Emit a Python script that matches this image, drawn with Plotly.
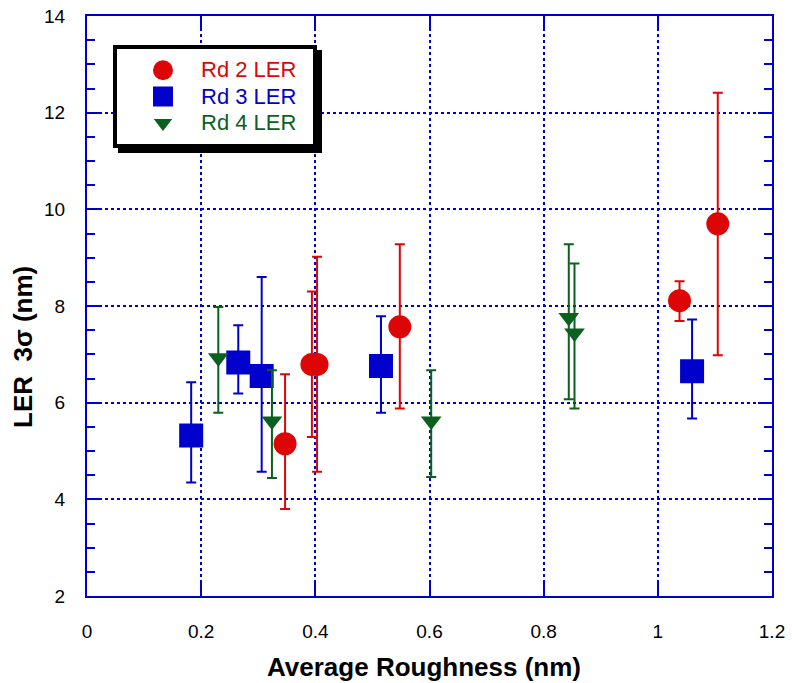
import plotly.graph_objects as go

# ---------------- data ----------------
rd2_x = [0.347, 0.394, 0.403, 0.548, 1.038, 1.105]
rd2_y = [5.15, 6.79, 6.79, 7.57, 8.11, 9.70]
rd2_hi = [6.59, 8.30, 9.02, 9.28, 8.51, 12.41]
rd2_lo = [3.80, 5.29, 4.57, 5.88, 7.69, 6.98]

rd3_x = [0.1825, 0.265, 0.306, 0.515, 1.060]
rd3_y = [5.32, 6.83, 6.55, 6.76, 6.65]
rd3_hi = [6.42, 7.60, 8.60, 7.79, 7.72]
rd3_lo = [4.35, 6.19, 4.57, 5.79, 5.67]

rd4_x = [0.230, 0.324, 0.603, 0.844, 0.854]
rd4_y = [6.93, 5.62, 5.62, 7.76, 7.44]
rd4_hi = [7.98, 6.67, 6.67, 9.28, 8.88]
rd4_lo = [5.79, 4.44, 4.46, 6.07, 5.88]

names = ["Rd 2 LER", "Rd 3 LER", "Rd 4 LER"]
colors = ["#dd0606", "#0000cc", "#0a611e"]
AXIS_BLUE = "#0000cc"
FONT = "Liberation Sans, Arial, sans-serif"

W, H = 792, 683
ML, MR, MT, MB = 87, 20, 16, 87
PW, PH = W - ML - MR, H - MT - MB


def px_x(p):
    return (p - ML) / PW


def px_y(p):
    return (H - MB - p) / PH


fig = go.Figure()

series = [
    (rd2_x, rd2_y, rd2_hi, rd2_lo, "circle", 19, 4),
    (rd3_x, rd3_y, rd3_hi, rd3_lo, "square", 20, 4),
    (rd4_x, rd4_y, rd4_hi, rd4_lo, "triangle-down", 18, 0),
]
for i, (xs, ys, hi, lo, sym, sz, lw) in enumerate(series):
    fig.add_trace(go.Scatter(
        x=xs, y=ys, mode="markers",
        name=f"<span style='color:{colors[i]};font-size:22px'>{names[i]}</span>",
        marker=dict(symbol=sym, size=sz, color=colors[i],
                    line=dict(color=colors[i], width=lw)),
        error_y=dict(type="data", symmetric=False,
                     array=[h - y for h, y in zip(hi, ys)],
                     arrayminus=[y - l for y, l in zip(ys, lo)],
                     color=colors[i], thickness=2, width=5),
    ))

# legend frame with drop shadow
fig.add_shape(type="rect", xref="paper", yref="paper", layer="above",
              x0=px_x(118), x1=px_x(322), y0=px_y(153), y1=px_y(50),
              fillcolor="black", line=dict(width=0))
fig.add_shape(type="rect", xref="paper", yref="paper", layer="above",
              x0=px_x(115), x1=px_x(315), y0=px_y(146), y1=px_y(47),
              fillcolor="white", line=dict(color="black", width=4))

fig.add_annotation(text="<b>Average Roughness (nm)</b>", xref="paper", yref="paper",
                   x=px_x(424), y=px_y(667), xanchor="center", yanchor="middle",
                   showarrow=False, font=dict(family=FONT, size=26, color="black"))
fig.add_annotation(text="<b>LER\u00a0 3σ (nm)</b>", xref="paper", yref="paper",
                   x=px_x(23), y=px_y(347), xanchor="center", yanchor="middle",
                   textangle=-90, showarrow=False,
                   font=dict(family=FONT, size=26, color="black"))

axis_common = dict(
    showline=True, linecolor=AXIS_BLUE, linewidth=2, mirror="allticks",
    ticks="inside", ticklen=14, tickwidth=2, tickcolor=AXIS_BLUE,
    showgrid=True, gridcolor=AXIS_BLUE, gridwidth=1.5, griddash="dot",
    zeroline=False, automargin=False,
    tickfont=dict(family=FONT, size=19, color="black"),
)

fig.update_xaxes(range=[0, 1.2], tick0=0, dtick=0.2, ticklabelstandoff=17, **axis_common)
fig.update_yaxes(range=[2, 14], tick0=2, dtick=2, ticklabelstandoff=16,
                 minor=dict(dtick=0.5, ticks="inside", ticklen=8, tickwidth=2,
                            tickcolor=AXIS_BLUE, showgrid=False),
                 **axis_common)

fig.update_layout(
    width=W, height=H,
    margin=dict(l=ML, r=MR, t=MT, b=MB, pad=0, autoexpand=False),
    paper_bgcolor="white", plot_bgcolor="white",
    font=dict(family=FONT, size=19, color="black"),
    showlegend=True,
    legend=dict(x=px_x(125), y=px_y(52), xanchor="left", yanchor="top",
                bgcolor="rgba(0,0,0,0)", borderwidth=0, itemwidth=66,
                font=dict(family=FONT, size=18), tracegroupgap=0),
)

fig.write_html("out.html")
